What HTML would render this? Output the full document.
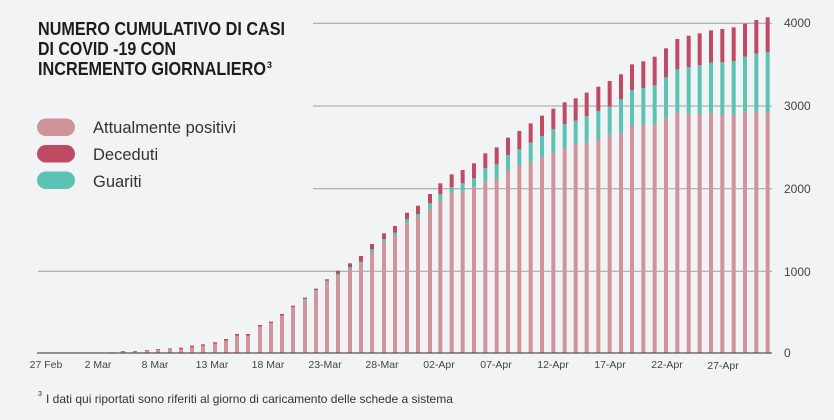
<!DOCTYPE html>
<html><head><meta charset="utf-8"><style>
html,body{margin:0;padding:0;background:#f2f3f5;}
svg{display:block;font-family:"Liberation Sans",sans-serif;}
</style></head><body>
<svg id="c" width="834" height="420" viewBox="0 0 834 420" xmlns="http://www.w3.org/2000/svg">
<rect width="834" height="420" fill="#f2f3f5"/>
<g font-weight="bold" font-size="18" fill="#1d1d1f">
<text x="38" y="35" textLength="247" lengthAdjust="spacingAndGlyphs">NUMERO CUMULATIVO DI CASI</text>
<text x="38" y="55" textLength="138" lengthAdjust="spacingAndGlyphs">DI COVID -19  CON</text>
<text x="38" y="75" textLength="228" lengthAdjust="spacingAndGlyphs">INCREMENTO GIORNALIERO</text>
<text x="267" y="68" font-size="9">3</text>
</g>
<rect x="37" y="118.5" width="38" height="17.5" rx="8.75" fill="#d0959a"/>
<rect x="37" y="145" width="38" height="17.5" rx="8.75" fill="#c04a63"/>
<rect x="37" y="171.5" width="38" height="17.5" rx="8.75" fill="#5cc3b4"/>
<g font-size="16.5" fill="#333">
<text x="93" y="133">Attualmente positivi</text>
<text x="93" y="160">Deceduti</text>
<text x="93" y="187">Guariti</text>
</g>
<g stroke="#a0a0a0" stroke-width="1">
<line x1="313" y1="23.3" x2="772" y2="23.3"/>
<line x1="313" y1="106" x2="772" y2="106"/>
<line x1="313" y1="188.7" x2="772" y2="188.7"/>
<line x1="38" y1="271.3" x2="772" y2="271.3"/>
</g>
<g id="bars"></g>
<line x1="37" y1="353" x2="772" y2="353" stroke="#555" stroke-width="1.3"/>
<g font-size="12" fill="#444">
<text x="784" y="27">4000</text>
<text x="784" y="110">3000</text>
<text x="784" y="193">2000</text>
<text x="784" y="276">1000</text>
<text x="784" y="357">0</text>
</g>
<g font-size="10.5" fill="#444" text-anchor="middle">
<text x="46" y="368">27 Feb</text>
<text x="98" y="368">2 Mar</text>
<text x="155" y="368">8 Mar</text>
<text x="212" y="368">13 Mar</text>
<text x="268" y="368">18 Mar</text>
<text x="325" y="368">23-Mar</text>
<text x="382" y="368">28-Mar</text>
<text x="439" y="368">02-Apr</text>
<text x="496" y="368">07-Apr</text>
<text x="553" y="368">12-Apr</text>
<text x="610" y="368">17-Apr</text>
<text x="667" y="368">22-Apr</text>
<text x="723" y="369">27-Apr</text>
</g>
<text x="38" y="396" font-size="7" fill="#333">3</text>
<text x="46" y="403" font-size="12" fill="#333">I dati qui riportati sono riferiti al giorno di caricamento delle schede a sistema</text>
</svg>
<script>
var B=352.7,g=document.getElementById('bars'),NS='http://www.w3.org/2000/svg';
function r(x,y1,y2,c){if(y2-y1<=0)return;var e=document.createElementNS(NS,'rect');e.setAttribute('x',x-2);e.setAttribute('y',y1);e.setAttribute('width',4);e.setAttribute('height',y2-y1);e.setAttribute('fill',c);g.appendChild(e);}
var early=[[112,352.3],[123,351],[135,351],[147,350],[158,349],[170,348.3],[181,347.7],[192,345.7],[203,344.3],[215,342.3],[226,339],[237,334],[248,334],[260,325],[271,321.7],[282,314],[293,305.7],[305,297.7],[316,288.7],[327,279.3]];
early.forEach(function(b,i){var t=b[1];var d=i>=6?1.5:0.6;var gu=(b[0]>=305)?1.5:0;r(b[0],t+d+gu,B,'#d0959a');r(b[0],t+d,t+d+gu,'#5cc3b4');r(b[0],t,t+d,'#c04a63');});
var mid=[[338,270.7,274,276],[350,263.3,267.3,269],[361,256,261.7,263.3],[372,244,249.3,252],[384,233.3,239,241.7],[395,226,232.7,236],[407,212.7,219.3,223.3],[418,205.7,214,216.7]];
var xs=[0,31,65,98,132,166,200,234,268,302,336,370,404,437,470,505,539,573,606,640,674,708,742,776,809,843,877,911,945,979,1013];
var tt=[552,520,493,480,460,430,412,383,363,340,317,296,277,265,248,230,213,193,163,154,140,115,87,77,70,61,57,52,41,30,22];
var gt=[580,553,532,520,505,475,463,435,418,398,378,358,342,332,318,303,290,268,240,234,226,202,178,171,165,158,157,153,140,131,126];
var pt=[598,572,548,545,530,515,507,480,465,458,440,428,415,403,398,388,377,370,345,345,343,323,308,310,312,310,315,313,305,305,307];
for(var i=0;i<xs.length;i++)mid.push([430+xs[i]/3,10+tt[i]/3,10+gt[i]/3,10+pt[i]/3]);
mid.forEach(function(b){r(b[0],b[3],B,'#d0959a');r(b[0],b[2],b[3],'#5cc3b4');r(b[0],b[1],b[2],'#c04a63');});
</script>
</body></html>
